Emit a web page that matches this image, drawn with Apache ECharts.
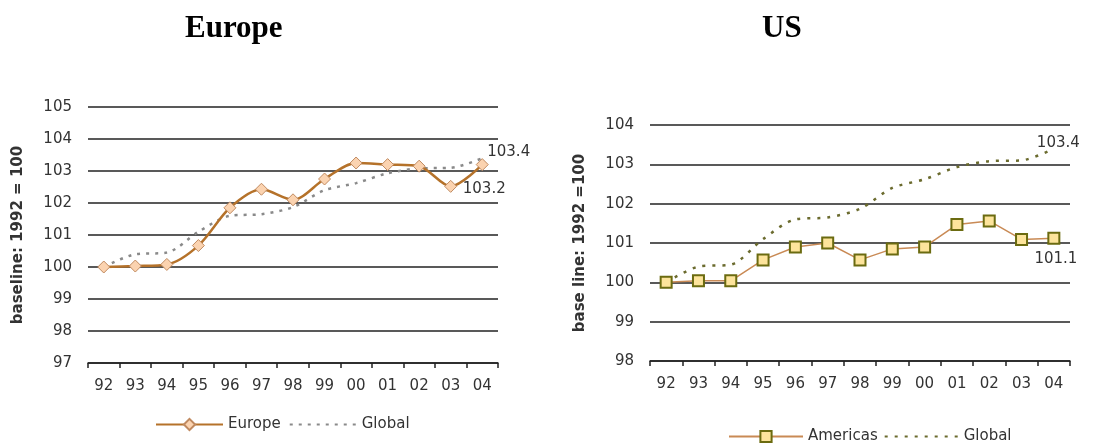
<!DOCTYPE html>
<html>
<head>
<meta charset="utf-8">
<script src="https://cdn.jsdelivr.net/npm/echarts@6/dist/echarts.min.js"></script>
<style>
  html, body { margin: 0; padding: 0; background: #fff; }
  #chart { width: 1095px; height: 443px; }
</style>
</head>
<body>
<div id="chart"></div>
<script>
// years on the x axis
var years = ["92", "93", "94", "95", "96", "97", "98", "99", "00", "01", "02", "03", "04"];
// index, 1992 = 100
var europe = [100, 100.03, 100.08, 100.67, 101.85, 102.43, 102.1, 102.75, 103.25, 103.2, 103.15, 102.52, 103.2];
var americas = [100, 100.04, 100.04, 100.57, 100.9, 101.0, 100.57, 100.85, 100.9, 101.47, 101.56, 101.09, 101.12];
var global = [100, 100.4, 100.45, 101.1, 101.6, 101.65, 101.87, 102.4, 102.62, 102.93, 103.08, 103.1, 103.4];

var font = "DejaVu Sans";

// only the last point gets a value label
function withEndLabel(values, label) {
  return values.map(function (v, i) {
    if (i !== values.length - 1) return v;
    return { value: v, label: Object.assign({ show: true, color: "#333", fontSize: 15, fontFamily: font,
      formatter: function (p) { return p.value.toFixed(1); } }, label) };
  });
}

function endLabel(offset) {
  return { show: true, color: "#333", fontSize: 15, fontFamily: font, distance: 5, offset: offset,
    formatter: function (p) { return p.value.toFixed(1); } };
}

function xAxis(gridIndex) {
  return {
    type: "category",
    gridIndex: gridIndex,
    data: years,
    axisLine: { lineStyle: { color: "#222", width: 1.5 } },
    axisTick: { show: true, length: 5, lineStyle: { color: "#222", width: 1.5 } },
    axisLabel: { color: "#333", fontSize: 15, fontFamily: font, margin: 16 },
  };
}

function yAxis(gridIndex, min, max, name) {
  return {
    type: "value",
    gridIndex: gridIndex,
    min: min,
    max: max,
    interval: 1,
    name: name,
    nameLocation: "middle",
    nameGap: 62,
    nameTextStyle: { color: "#333", fontSize: 15, fontWeight: "bold", fontFamily: font },
    axisLine: { show: false },
    axisTick: { show: false },
    axisLabel: { color: "#333", fontSize: 15, fontFamily: font, margin: 16 },
    splitLine: { lineStyle: { color: "#222", width: 1.5 } },
  };
}

var clear = { color: "rgba(0,0,0,0)", borderColor: "rgba(0,0,0,0)", borderWidth: 0 };

var chart = echarts.init(document.getElementById("chart"));
chart.setOption({
  animation: false,
  title: [
    { text: "Europe", left: 185, top: 13, padding: 0,
      textStyle: { fontFamily: "Liberation Serif", fontSize: 31, fontWeight: "bold", color: "#000" } },
    { text: "US", left: 762, top: 13, padding: 0,
      textStyle: { fontFamily: "Liberation Serif", fontSize: 31, fontWeight: "bold", color: "#000" } },
  ],
  grid: [
    { left: 88, top: 107, width: 410, height: 256 },
    { left: 650, top: 125, width: 420, height: 236 },
  ],
  legend: [
    { left: 150, top: 412, itemWidth: 67, itemHeight: 14, itemGap: 8,
      textStyle: { color: "#333", fontSize: 15, fontFamily: font },
      data: [{ name: "Europe" }, { name: "Global" }] },
    { left: 723, top: 424, itemWidth: 74, itemHeight: 14, itemGap: 6,
      textStyle: { color: "#333", fontSize: 15, fontFamily: font },
      data: [{ name: "Americas" }, { name: "Global " }] },
  ],
  xAxis: [xAxis(0), xAxis(1)],
  yAxis: [yAxis(0, 97, 105, "baseline: 1992 = 100"), yAxis(1, 98, 104, "base line: 1992 =100")],
  series: [
    {
      name: "Global", type: "line", xAxisIndex: 0, yAxisIndex: 0,
      data: global,
      smooth: 0.3, symbol: "none", z: 2,
      lineStyle: { color: "#8a8a8a", width: 2.5, type: [3, 6] },
      itemStyle: clear,
      endLabel: endLabel([0, -6]),
    },
    {
      name: "Europe", type: "line", xAxisIndex: 0, yAxisIndex: 0,
      data: withEndLabel(europe, { position: "bottom", distance: 11, offset: [2, 0] }),
      smooth: 0.3, symbol: "diamond", symbolSize: 12, z: 3,
      lineStyle: { color: "#b5722a", width: 2.5 },
      itemStyle: { color: "#fbd3b0", borderColor: "#c08a60", borderWidth: 1 },
    },
    {
      name: "Global ", type: "line", xAxisIndex: 1, yAxisIndex: 1,
      data: global,
      smooth: 0.3, symbol: "none", z: 2,
      lineStyle: { color: "#6b6b2e", width: 2.5, type: [3, 7] },
      itemStyle: clear,
      endLabel: endLabel([-22, -5]),
    },
    {
      name: "Americas", type: "line", xAxisIndex: 1, yAxisIndex: 1,
      data: withEndLabel(americas, { position: "bottom", distance: 7, offset: [2, 0] }),
      symbol: "rect", symbolSize: 11, z: 3,
      lineStyle: { color: "#c98a55", width: 1.5 },
      itemStyle: { color: "#fde49b", borderColor: "#6b6b10", borderWidth: 2 },
    },
  ],
});
</script>
</body>
</html>
